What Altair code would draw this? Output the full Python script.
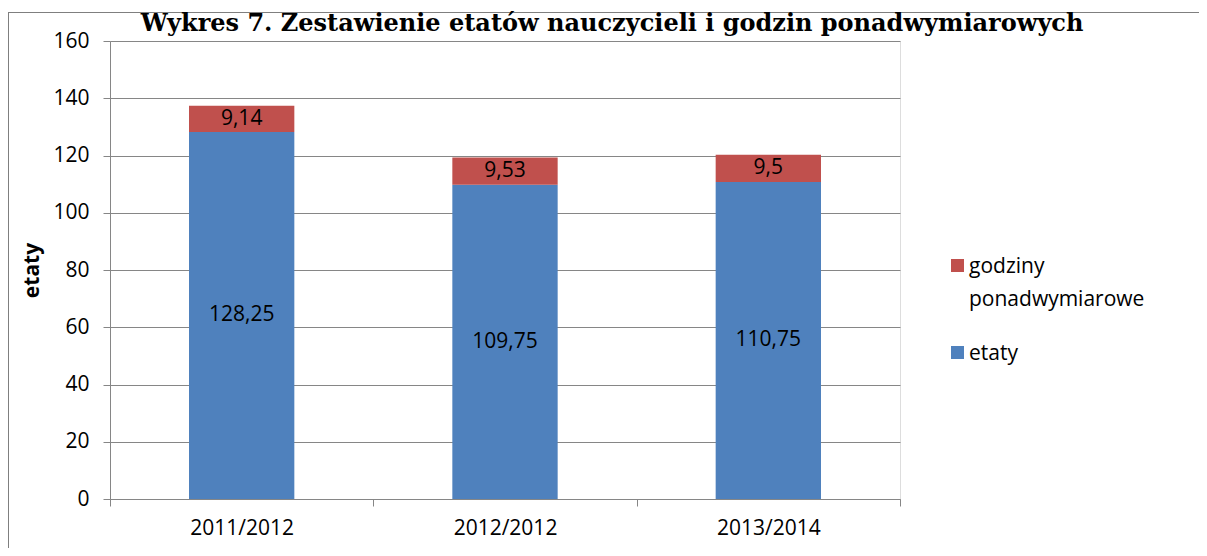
import altair as alt
import pandas as pd

lata = ["2011/2012", "2012/2012", "2013/2014"]
etaty = [128.25, 109.75, 110.75]
godziny = [9.14, 9.53, 9.5]
serie = ["godziny ponadwymiarowe", "etaty"]
kolory = ["#C0504D", "#4F81BD"]
y_ticks = [0, 20, 40, 60, 80, 100, 120, 140, 160]
tytul = "Wykres 7. Zestawienie etatów nauczycieli i godzin ponadwymiarowych"

rows = []
for i, rok in enumerate(lata):
    rows.append({"rok": rok, "seria": "etaty", "wartosc": etaty[i], "kolejnosc": 0,
                 "etykieta": str(etaty[i]).replace(".", ",")})
    rows.append({"rok": rok, "seria": "godziny ponadwymiarowe", "wartosc": godziny[i], "kolejnosc": 1,
                 "etykieta": str(godziny[i]).replace(".", ",")})
df = pd.DataFrame(rows)

FONT = "Open Sans"
GRAY = "#868686"
LABEL_DY = 7

base = alt.Chart(df).transform_stack(
    stack="wartosc", groupby=["rok"], as_=["y0", "y1"],
    sort=[alt.SortField("kolejnosc", order="ascending")]
).transform_calculate(mid="(datum.y0 + datum.y1) / 2")

x_enc = alt.X("rok:N", sort=lata,
              scale=alt.Scale(paddingInner=0, paddingOuter=0),
              axis=alt.Axis(title=None, labelAngle=0, tickBand="extent", grid=False,
                            domainColor=GRAY, tickColor=GRAY, tickSize=7,
                            labelFont=FONT, labelFontSize=21, labelColor="#000",
                            labelPadding=11 - LABEL_DY))

bars = base.mark_bar(width=alt.RelativeBandSize(0.4)).encode(
    x=x_enc,
    y=alt.Y("y0:Q", scale=alt.Scale(domain=[0, 160], nice=False),
            axis=alt.Axis(title="etaty", values=y_ticks, grid=True, gridColor=GRAY,
                          domainColor=GRAY, tickColor=GRAY, tickSize=7,
                          labelFont=FONT, labelFontSize=21, labelColor="#000",
                          labelOffset=-LABEL_DY,
                          labelPadding=14, titleFont=FONT, titleFontSize=21,
                          titleFontWeight="bold", titleColor="#000", titlePadding=10)),
    y2="y1:Q",
    color=alt.Color("seria:N", scale=alt.Scale(domain=serie, range=kolory),
                    legend=alt.Legend(title=None, orient="none", legendX=837, legendY=214,
                                      symbolType="square", symbolSize=170,
                                      symbolStrokeWidth=0, labelFont=FONT,
                                      labelFontSize=21, labelColor="#000",
                                      labelOffset=1, rowPadding=32, labelLimit=300,
                                      labelBaseline="alphabetic",
                                      labelExpr="datum.label == 'godziny ponadwymiarowe' ? ['godziny', 'ponadwymiarowe'] : datum.label")),
)

texts = base.mark_text(font=FONT, fontSize=21, color="#000").encode(
    x=alt.X("rok:N", sort=lata),
    y=alt.Y("mid:Q"),
    text="etykieta:N",
)

frame_df = pd.DataFrame({"k": [0]})
top_line = alt.Chart(frame_df).mark_rule(color="#7f7f7f", strokeWidth=1.2).encode(
    x=alt.value(-102), x2=alt.value(1090), y=alt.value(-28.5))
left_line = alt.Chart(frame_df).mark_rule(color="#7f7f7f", strokeWidth=1).encode(
    x=alt.value(-101.5), y=alt.value(-28.5), y2=alt.value(510))

chart = alt.layer(bars, texts, top_line, left_line).properties(
    width=790, height=458,
    autosize=alt.AutoSizeParams(type="none"),
    padding={"left": 102, "top": 33, "right": 299, "bottom": 49},
    title=alt.TitleParams(tytul, font="DejaVu Serif", fontWeight="bold", fontSize=24,
                          anchor="middle", dx=107, offset=-43, color="#000", baseline="alphabetic"),
).configure_view(strokeWidth=0).configure(style={"guide-label": {"lineHeight": 33, "dy": LABEL_DY}})

chart.save("out.html", embed_options={"renderer": "svg", "actions": False})
